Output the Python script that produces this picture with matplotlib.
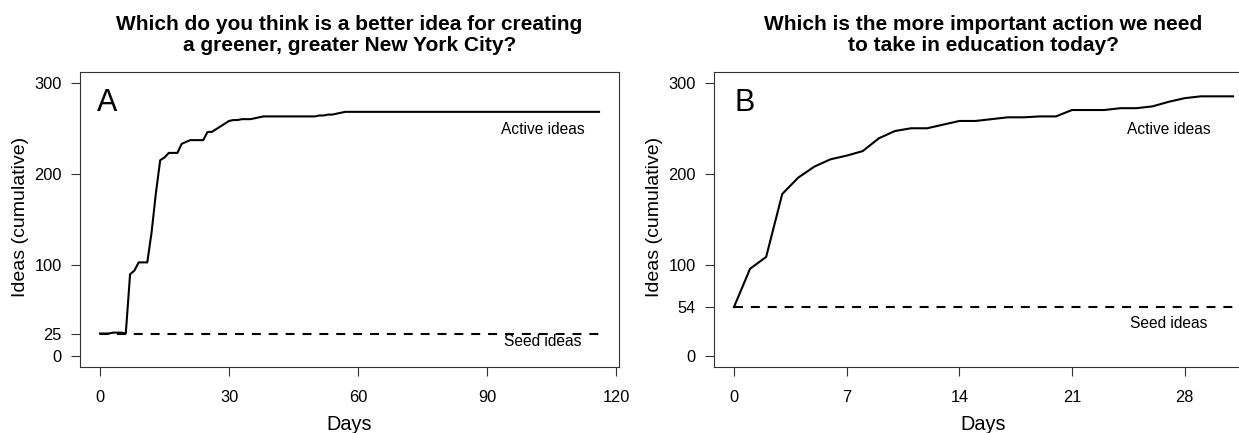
import matplotlib
matplotlib.use("Agg")
import matplotlib.pyplot as plt

plt.rcParams['font.family'] = ['Liberation Sans', 'DejaVu Sans']

# panel A: days where the count changes, and the cumulative count of active ideas
days_a = [0, 2, 3, 5, 6, 7, 8, 9, 11, 12, 13, 14, 15, 16, 18, 19, 20, 21, 24, 25,
          26, 27, 28, 29, 30, 31, 32, 33, 35, 36, 37, 38, 50, 51, 52, 53, 54, 55,
          56, 57, 116]
active_a = [25, 25, 26, 26, 25, 90, 94, 103, 103, 136, 179, 215, 218, 223, 223, 233, 235, 237, 237, 246,
            246, 249, 252, 255, 258, 259, 259, 260, 260, 261, 262, 263, 263, 264, 264, 265, 265, 266,
            267, 268, 268]
seed_a = 25
xlim_a = 116

# panel B: daily cumulative active ideas
days_b = list(range(32))
active_b = [54, 96, 109, 178, 196, 208, 216, 220, 225, 239, 247, 250, 250, 254, 258, 258,
            260, 262, 262, 263, 263, 270, 270, 270, 272, 272, 274, 279, 283, 285, 285, 285]
seed_b = 54
xlim_b = 31

titles = ["Which do you think is a better idea for creating\na greener, greater New York City?",
          "Which is the more important action we need\nto take in education today?"]
letters = ["A", "B"]
xticks = [[0, 30, 60, 90, 120], [0, 7, 14, 21, 28]]
yticks = [[0, 25, 100, 200, 300], [0, 54, 100, 200, 300]]
label_pos = [(103, 249, 16), (27, 249, 36.5)]

W, H = 1239, 433
fig = plt.figure(figsize=(W / 100, H / 100), dpi=100)

panels = [(days_a, active_a, seed_a, xlim_a), (days_b, active_b, seed_b, xlim_b)]
lefts = [80, 714]
for i, (d, act, seed, xmax) in enumerate(panels):
    ax = fig.add_axes([lefts[i] / W, (H - 367.3) / H, 539 / W, 295.6 / H])
    ax.plot(d, act, color='black', lw=1.5)
    ax.plot([0, xmax], [seed, seed], color='black', lw=1.5, dashes=(4.3, 3.8))
    ext = 0.04 * xmax
    ax.set_xlim(-ext, xmax + ext)
    ax.set_ylim(-12, 312)
    ax.set_xticks(xticks[i])
    ax.set_yticks(yticks[i])
    ax.tick_params(axis='both', direction='out', length=6.5, width=0.8, color='#333333',
                   labelsize=11.8)
    ax.tick_params(axis='x', pad=9.5)
    ax.tick_params(axis='y', pad=6.5)
    for s in ax.spines.values():
        s.set_color('#333333')
        s.set_linewidth(0.8)
    ax.set_xlabel("Days", fontsize=14.3)
    ax.set_ylabel("Ideas (cumulative)", fontsize=14)
    ax.xaxis.set_label_coords(0.5, -0.162)
    ax.yaxis.set_label_coords(-0.094, 0.51)
    ax.set_title(titles[i], fontsize=15, fontweight='bold', pad=15, linespacing=1.15)
    ax.text(0.032 + 0.006 * i, 0.868, letters[i], transform=ax.transAxes, fontsize=22,
            ha='left', va='baseline')
    lx, ly_act, ly_seed = label_pos[i]
    ax.text(lx, ly_act, "Active ideas", fontsize=11.2, ha='center', va='center')
    ax.text(lx, ly_seed, "Seed ideas", fontsize=11.2, ha='center', va='center')

fig.savefig("out.png", dpi=100)
